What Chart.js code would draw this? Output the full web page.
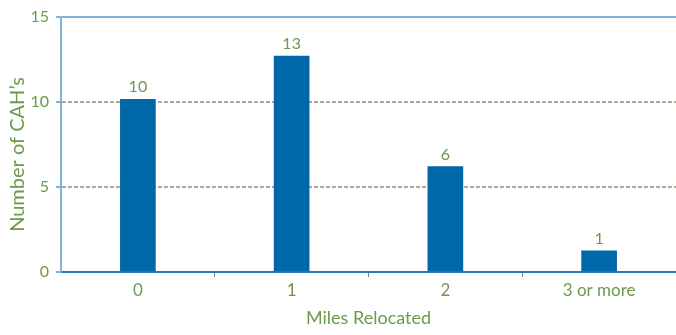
<!DOCTYPE html>
<html>
<head>
<meta charset="utf-8">
<script src="https://cdn.jsdelivr.net/npm/chart.js@4.4.1/dist/chart.umd.min.js"></script>
<style>
  html, body { margin: 0; padding: 0; background: #fff; }
  #wrap { width: 676px; height: 335px; position: relative; }
</style>
</head>
<body>
<div id="wrap"><canvas id="chart"></canvas></div>
<script>
// data
const categories = ['0', '1', '2', '3 or more'];
const barValues = [10.15, 12.7, 6.2, 1.25];
const valueLabels = ['10', '13', '6', '1'];
const yTicks = [0, 5, 10, 15];

const GREEN = '#6a9a4c';
const BAR = '#0067a8';
const AXIS_LIGHT = '#7fb4d8';
const AXIS_DARK = '#2a78bb';
const GRID = '#b6a392';
const TICK_BROWN = '#9a7f6b';
const FONT = 'Lato, "Noto Sans", sans-serif';

Chart.defaults.font.family = FONT;
Chart.defaults.font.size = 16;
Chart.defaults.color = GREEN;

// draws the value above each bar, using the bar elements' positions
const barLabels = {
    id: 'barLabels',
    afterDatasetsDraw(chart) {
        const ctx = chart.ctx;
        const meta = chart.getDatasetMeta(0);
        ctx.save();
        ctx.font = '16px ' + FONT;
        ctx.fillStyle = GREEN;
        ctx.textAlign = 'center';
        ctx.textBaseline = 'alphabetic';
        meta.data.forEach((bar, i) => {
            ctx.fillText(valueLabels[i], bar.x, bar.y - 7);
        });
        ctx.restore();
    }
};

new Chart(document.getElementById('chart'), {
    type: 'bar',
    data: {
        labels: categories,
        datasets: [{
            data: barValues,
            backgroundColor: BAR,
            borderWidth: 0,
            barThickness: 35
        }]
    },
    options: {
        responsive: true,
        maintainAspectRatio: false,
        animation: false,
        layout: { padding: { top: 17, right: -7, left: 0, bottom: 0 } },
        plugins: { legend: { display: false }, tooltip: { enabled: false } },
        scales: {
            x: {
                offset: true,
                grid: {
                    drawOnChartArea: false,
                    tickLength: 5,
                    tickWidth: 1,
                    tickColor: (c) => c.index === 0 ? 'rgba(0,0,0,0)' : TICK_BROWN
                },
                border: { display: true, color: AXIS_DARK, width: 2 },
                ticks: { color: GREEN, padding: 3, font: { size: 17 } },
                title: {
                    display: true,
                    text: 'Miles Relocated',
                    color: GREEN,
                    font: { size: 18 },
                    padding: { top: 0, bottom: 6 }
                },
                afterFit(scale) { scale.height = 63; }
            },
            y: {
                min: 0,
                max: 15,
                afterBuildTicks(scale) { scale.ticks = yTicks.map(v => ({ value: v })); },
                grid: {
                    color: (c) => {
                        if (!c.tick || c.tick.value === 0) return 'rgba(0,0,0,0)';
                        return c.tick.value === 15 ? AXIS_LIGHT : GRID;
                    },
                    lineWidth: 2,
                    tickLength: 5,
                    tickWidth: 2,
                    tickColor: AXIS_LIGHT
                },
                border: {
                    display: true,
                    color: AXIS_LIGHT,
                    width: 2,
                    dash: (c) => (c.tick && c.tick.value !== 15) ? [4, 2] : []
                },
                ticks: { color: GREEN, padding: 7, font: { size: 16 } },
                title: {
                    display: true,
                    text: 'Number of CAH\u2019s\u2002\u2002',
                    color: GREEN,
                    font: { size: 20 },
                    padding: { top: 6, bottom: 0 }
                },
                afterFit(scale) { scale.width = 61; }
            }
        }
    },
    plugins: [barLabels]
});
</script>
</body>
</html>
